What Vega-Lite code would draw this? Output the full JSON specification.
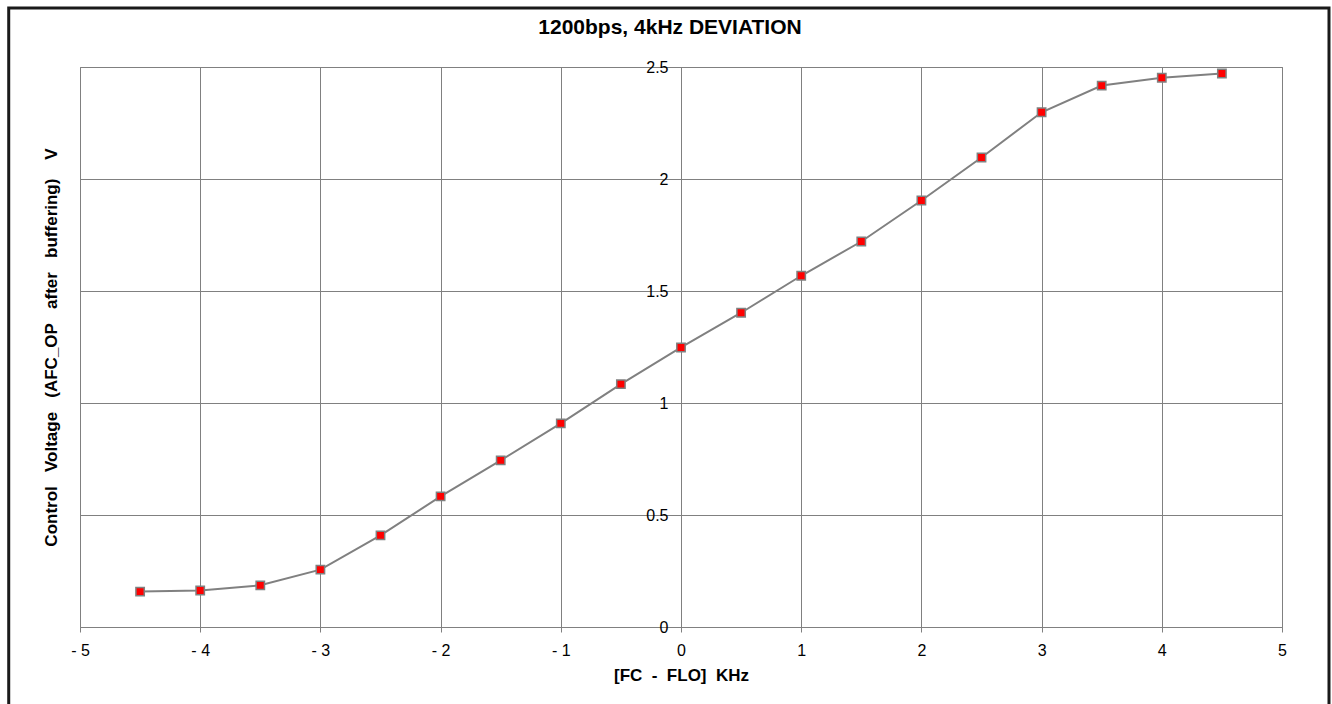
{
  "$schema": "https://vega.github.io/schema/vega-lite/v6.json",
  "width": 1202,
  "height": 560,
  "autosize": {"type": "none"},
  "padding": {"left": 80, "top": 67, "right": 50, "bottom": 77},
  "background": "white",
  "config": {
    "font": "Liberation Sans",
    "view": {"stroke": "#808080", "strokeWidth": 1}
  },
  "title": {
    "text": "1200bps, 4kHz DEVIATION",
    "font": "Liberation Sans",
    "fontSize": 21,
    "fontWeight": "bold",
    "color": "black",
    "anchor": "middle",
    "frame": "group",
    "baseline": "alphabetic",
    "offset": -48,
    "dx": -11
  },
  "datasets": {
    "curve": [
      {"f": -4.5, "v": 0.158},
      {"f": -4.0, "v": 0.163},
      {"f": -3.5, "v": 0.186},
      {"f": -3.0, "v": 0.256},
      {"f": -2.5, "v": 0.409},
      {"f": -2.0, "v": 0.583},
      {"f": -1.5, "v": 0.744},
      {"f": -1.0, "v": 0.909},
      {"f": -0.5, "v": 1.084},
      {"f": 0.0, "v": 1.248},
      {"f": 0.5, "v": 1.403},
      {"f": 1.0, "v": 1.568},
      {"f": 1.5, "v": 1.721},
      {"f": 2.0, "v": 1.904},
      {"f": 2.5, "v": 2.096},
      {"f": 3.0, "v": 2.298},
      {"f": 3.5, "v": 2.417},
      {"f": 4.0, "v": 2.452},
      {"f": 4.5, "v": 2.471}
    ],
    "frame": [
      {"x1": -5.593, "x2": 5.391, "y1": 2.763, "y2": -0.6}
    ]
  },
  "layer": [
    {
      "data": {"name": "frame"},
      "mark": {"type": "rect", "filled": false, "color": "#1a1a1a", "strokeWidth": 3, "opacity": 1},
      "encoding": {
        "x": {"field": "x1", "type": "quantitative", "scale": {"domain": [-5, 5], "nice": false, "zero": false}},
        "x2": {"field": "x2"},
        "y": {"field": "y1", "type": "quantitative", "scale": {"domain": [0, 2.5], "nice": false, "zero": false}},
        "y2": {"field": "y2"}
      }
    },
    {
      "data": {"name": "curve"},
      "mark": {"type": "line", "color": "#808080", "strokeWidth": 2},
      "encoding": {
        "x": {
          "field": "f",
          "type": "quantitative",
          "scale": {"domain": [-5, 5], "nice": false, "zero": false},
          "axis": {
            "values": [-5, -4, -3, -2, -1, 0, 1, 2, 3, 4, 5],
            "labelExpr": "datum.value < 0 ? '- ' + toString(-datum.value) : toString(datum.value)",
            "labelFontSize": 16,
            "labelColor": "black",
            "labelPadding": 10,
            "labelFlush": false,
            "labelOverlap": false,
            "ticks": true,
            "tickSize": 5,
            "tickColor": "#808080",
            "domain": false,
            "grid": true,
            "gridColor": "#808080",
            "gridOpacity": 1,
            "gridWidth": 1,
            "title": "[FC\u00a0\u00a0-\u00a0\u00a0FLO]\u00a0\u00a0KHz",
            "titleFontSize": 17,
            "titleFontWeight": "bold",
            "titleColor": "black",
            "titlePadding": 9
          }
        },
        "y": {
          "field": "v",
          "type": "quantitative",
          "scale": {"domain": [0, 2.5], "nice": false, "zero": false},
          "axis": {
            "values": [0, 0.5, 1, 1.5, 2, 2.5],
            "labelExpr": "toString(datum.value)",
            "labelFontSize": 16,
            "labelColor": "black",
            "labelPadding": 13,
            "labelFlush": false,
            "labelOverlap": false,
            "ticks": false,
            "domain": false,
            "offset": -601,
            "grid": true,
            "gridColor": "#808080",
            "gridOpacity": 1,
            "gridWidth": 1,
            "title": "Control\u00a0\u00a0\u00a0Voltage\u00a0\u00a0\u00a0(AFC_OP\u00a0\u00a0\u00a0after\u00a0\u00a0\u00a0buffering)\u00a0\u00a0\u00a0\u00a0V",
            "titleFontSize": 17,
            "titleFontWeight": "bold",
            "titleColor": "black",
            "titleAngle": -90,
            "titleX": -630,
            "titleY": 280,
            "titleAlign": "center",
            "titleBaseline": "middle"
          }
        }
      }
    },
    {
      "data": {"name": "curve"},
      "mark": {"type": "square", "size": 70, "fill": "#ff0000", "stroke": "#808080", "strokeWidth": 1.5, "opacity": 1},
      "encoding": {
        "x": {"field": "f", "type": "quantitative"},
        "y": {"field": "v", "type": "quantitative"}
      }
    }
  ]
}
